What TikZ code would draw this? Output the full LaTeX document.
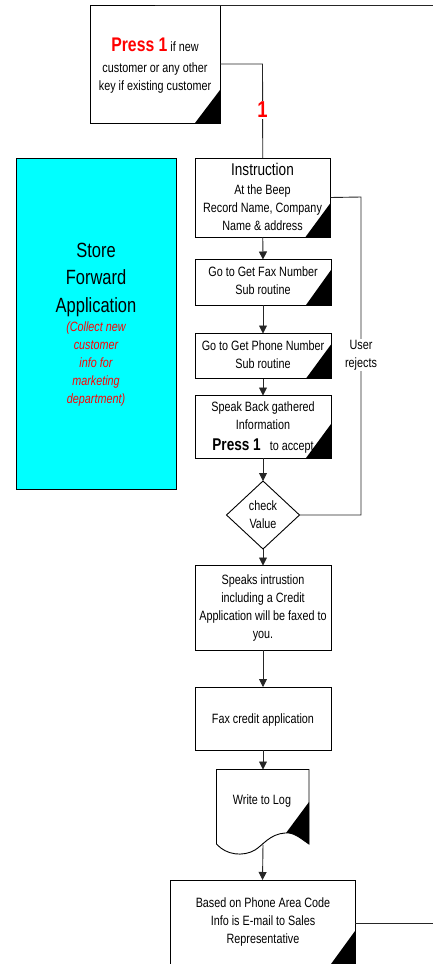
\documentclass[tikz,border=0pt]{standalone}
\usepackage{fontspec}
\setmainfont{Liberation Sans}[FakeStretch=0.8]
\usetikzlibrary{arrows.meta,shapes.geometric}
\definecolor{aquafill}{RGB}{0,255,255}
\newcommand{\txt}{\fontsize{13.5}{18}\selectfont}
\tikzset{
  flowbox/.style={draw=black,fill=white,line width=0.9pt,inner sep=0pt,outer sep=0pt,align=center,font=\txt,anchor=north west},
  link/.style={draw=black!85,line width=0.9pt},
  flow/.style={link,-{Triangle[length=8pt,width=8pt]}},
  corner/.style={fill=black},
  txtlabel/.style={inner sep=0pt,align=center,font=\txt}
}
\begin{document}
\begin{tikzpicture}[x=1pt,y=-1pt]
\useasboundingbox (0,0) rectangle (433,964);
\node[flowbox,minimum width=130pt,minimum height=118pt] (press) at (90,5) {};
\node[txtlabel] (presstext) at (155,66) {{\fontsize{19.7}{22}\selectfont\bfseries\textcolor{red}{Press 1}} if new\\[3pt]customer or any other\\key if existing customer};
\fill[corner] (press.south east) -- +(-25,0) -- +(0,-33) -- cycle;
\node[flowbox,minimum width=135.5pt,minimum height=79pt] (instr) at (195,158) {};
\node[txtlabel] (instrtext) at (262.5,196.5) {{\fontsize{17}{18}\selectfont Instruction}\\[1pt]At the Beep\\Record Name, Company\\Name \& address};
\fill[corner] (instr.south east) -- +(-25,0) -- +(0,-34) -- cycle;
\node[flowbox,minimum width=136pt,minimum height=45.5pt] (fax) at (195,259.5) {};
\node[txtlabel] (faxtext) at (263,281) {Go to Get Fax Number\\Sub routine};
\fill[corner] (fax.south east) -- +(-25,0) -- +(0,-35) -- cycle;
\node[flowbox,minimum width=136pt,minimum height=45pt] (phone) at (195,333.5) {};
\node[txtlabel] (phonetext) at (263,355) {Go to Get Phone Number\\Sub routine};
\fill[corner] (phone.south east) -- +(-25,0) -- +(0,-34) -- cycle;
\node[flowbox,minimum width=136pt,minimum height=62.5pt] (speak) at (195,395.5) {};
\node[txtlabel] (speaktext) at (263,427.5) {Speak Back gathered\\Information\\[3pt]{\fontsize{17}{18}\selectfont\bfseries Press 1}\hspace{9pt}to accept};
\fill[corner] (speak.south east) -- +(-25,0) -- +(0,-34) -- cycle;
\node[draw=black,fill=white,line width=0.9pt,diamond,aspect=1.07,inner sep=0pt,outer sep=0pt,minimum width=73pt,minimum height=68pt] (check) at (263,515) {};
\node[txtlabel] (checktext) at (263,515) {check\\Value};
\node[flowbox,minimum width=136pt,minimum height=84.5pt] (speaks) at (195,565.5) {};
\node[txtlabel] (speakstext) at (263,608.5) {Speaks intrustion\\including a Credit\\Application will be faxed to\\you.};
\node[flowbox,minimum width=136pt,minimum height=63pt] (credit) at (195,687) {};
\node[txtlabel] (credittext) at (263,719.5) {Fax credit application};
% document shape
\coordinate (logtop) at (263,769.5);
\coordinate (logbot) at (263,844.5);
\filldraw[fill=white,draw=black,line width=0.9pt] (216.5,769.5) -- (309,769.5) -- (309,844)
  .. controls (300,838) and (294,832) .. (285,833)
  .. controls (270,834) and (263,845) .. (255,850)
  .. controls (243,857) and (226,855) .. (216.5,844) -- cycle;
\fill[corner] (286,833) -- (309,802) -- (309,844) .. controls (300,838) and (294,832) .. (286,833) -- cycle;
\node[txtlabel] (logtext) at (262,801) {Write to Log};
\node[flowbox,minimum width=185pt,minimum height=86pt] (based) at (170,880) {};
\node[txtlabel] (basedtext) at (263,922) {Based on Phone Area Code\\Info is E-mail to Sales\\Representative};
\fill[corner] (355,964) -- (331,964) -- (355,931) -- cycle;
\node[draw=black,fill=aquafill,line width=0.9pt,inner sep=0pt,outer sep=0pt,minimum width=160pt,minimum height=331pt,anchor=north west] (store) at (16,158) {};
\node[txtlabel,font=\fontsize{20.6}{27.5}\selectfont] (storetext) at (96,279.5) {Store\\Forward\\Application};
\node[txtlabel,text=red,font=\fontsize{13.5}{18}\selectfont\itshape] (storenote) at (96,364) {(Collect new\\customer\\info for\\marketing\\department)};
% connectors
\coordinate (topend) at (433,5);
\coordinate (basedend) at (433,923);
\draw[link] (press.north) -- (topend);
\draw[link] (press.east) -- (262.5,64) -- (instr.north);
\node[fill=white,inner sep=1pt,text=red,font=\fontsize{23}{23}\selectfont\bfseries] (one) at (262.5,110) {1};
\draw[flow] (instr.south) -- (fax.north);
\draw[flow] (fax.south) -- (phone.north);
\draw[flow] (phone.south) -- (speak.north);
\draw[flow] (speak.south) -- (check.north);
\draw[flow] (check.south) -- (speaks.north);
\draw[flow] (speaks.south) -- (credit.north);
\draw[flow] (credit.south) -- (logtop);
\draw[flow] (logbot) -- (based.north);
\draw[link] (based.east) -- (basedend);
\draw[link] (check.east) -- (361,515) -- (361,197) -- (instr.east);
\node[fill=white,inner sep=1pt,align=center,font=\txt] (rejects) at (361,355) {User\\rejects};
\end{tikzpicture}
\end{document}
